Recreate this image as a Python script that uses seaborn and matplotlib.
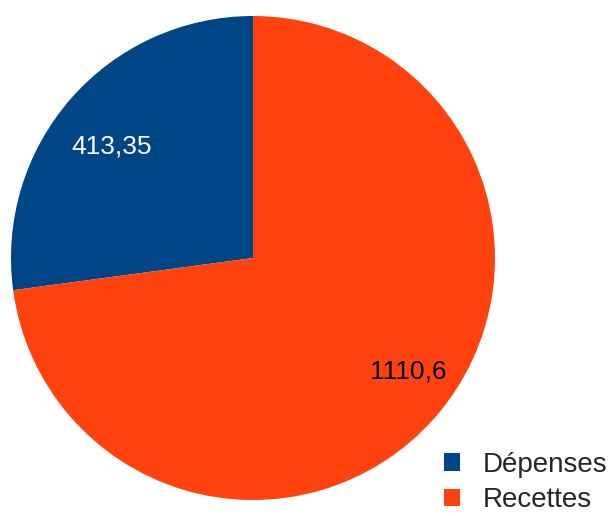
import matplotlib
matplotlib.use("Agg")
import matplotlib.pyplot as plt
import seaborn as sns

sns.set_theme(style="white")
plt.rcParams['font.family'] = ['Liberation Sans', 'DejaVu Sans']

categories = ["Dépenses", "Recettes"]
values = [413.35, 1110.6]
colors = ["#004586", "#ff420e"]

fig = plt.figure(figsize=(6.16, 5.16), dpi=100)
ax = fig.add_axes([11/616, 16/516, 484/616, 484/516])
total = sum(values)

def fmt(p):
    v = p * total / 100
    for val in values:
        if abs(val - v) < 0.01:
            return f"{val:g}".replace(".", ",")
    return f"{v:g}".replace(".", ",")

wedges, texts, autotexts = ax.pie(values, colors=colors, startangle=90,
                                  counterclock=True, autopct=fmt,
                                  pctdistance=0.76, radius=1,
                                  wedgeprops={"linewidth": 0},
                                  textprops={"fontsize": 19})
autotexts[0].set_color("white")
autotexts[1].set_color("black")
autotexts[0].set_position((-0.583, 0.46))
autotexts[1].set_position((0.64, -0.47))
ax.set_xlim(-1, 1)
ax.set_ylim(-1, 1)
ax.set_aspect("auto")
ax.axis("off")

leg = fig.legend(wedges, categories, loc="lower right",
                 bbox_to_anchor=(0.99, 0.0), frameon=False, fontsize=20,
                 handlelength=0.6, handleheight=0.6, handletextpad=0.8,
                 labelspacing=0.35, borderaxespad=0.0, borderpad=0.1)

fig.savefig("out.png", dpi=100)
